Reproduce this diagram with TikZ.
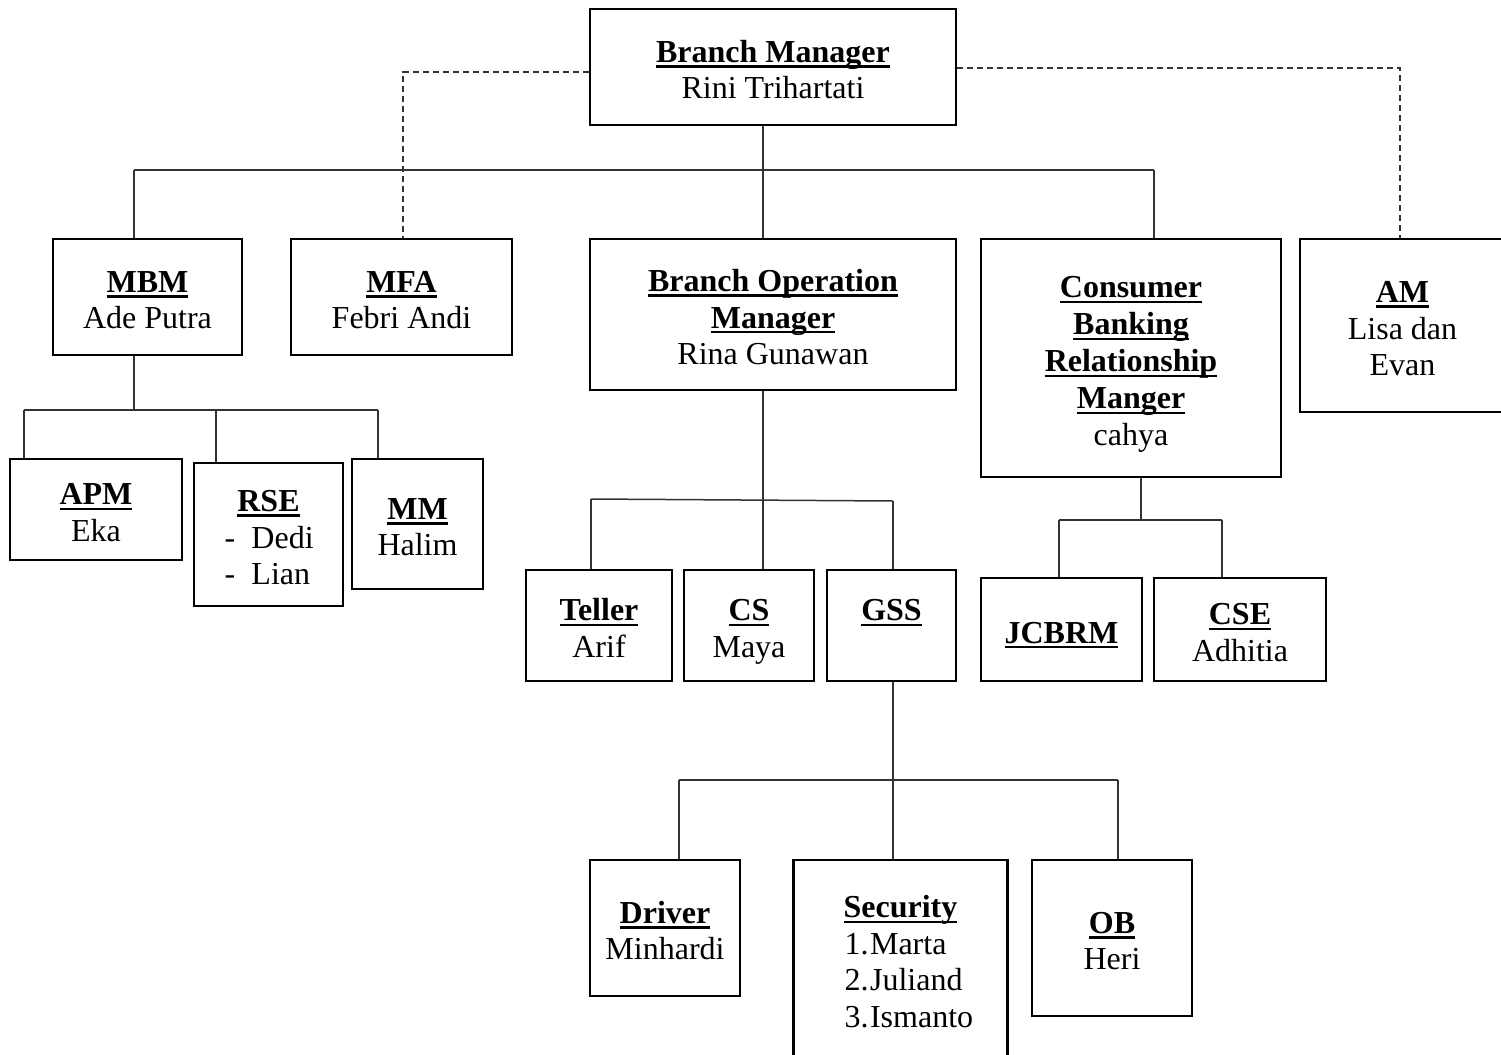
\documentclass[tikz,border=0pt]{standalone}
\usepackage{fontspec}
\setmainfont{Liberation Serif}
\begin{document}
\newcommand\ulb[1]{\setbox0\hbox{\textbf{#1}}\rlap{\rule[-2.7pt]{\wd0}{1.1pt}}\box0}
\newcommand\ttl[1]{\rule{0pt}{17.5pt}\ulb{#1}}
\newcommand\rseitem[1]{\makebox[44pt][l]{\makebox[13.5pt][l]{-}#1}}
\newcommand\secitem[2]{\makebox[56pt][l]{\makebox[12.8pt][l]{#1}#2}}
\begin{tikzpicture}[x=0.5pt,y=-0.5pt,
  box/.style={draw=black, line width=1.4pt, inner sep=0pt, align=center,
    font=\fontsize{16pt}{18.4pt}\selectfont, rectangle,
    execute at end node={\rule[-4pt]{0pt}{0pt}}},
  conn/.style={draw=black!80, line width=0.75pt},
  dconn/.style={conn, dash pattern=on 3pt off 2pt}]
\useasboundingbox (0,0) rectangle (1501,1055);
\clip (0,0) rectangle (1501,1055);
% nodes
\node[box, minimum width=183pt, minimum height=58pt] (bm) at (773,67) {\ttl{Branch Manager}\\Rini Trihartati};
\node[box, minimum width=94.5pt, minimum height=58pt] (mbm) at (147.5,297) {\ttl{MBM}\\Ade Putra};
\node[box, minimum width=110.5pt, minimum height=58pt] (mfa) at (401.5,297) {\ttl{MFA}\\Febri Andi};
\node[box, minimum width=183pt, minimum height=75.5pt] (bom) at (773,314.5) {\ttl{Branch Operation}\\\ulb{Manager}\\Rina Gunawan};
\node[box, minimum width=150pt, minimum height=119pt] (cbrm) at (1131,358) {\ttl{Consumer}\\\ulb{Banking}\\\ulb{Relationship}\\\ulb{Manger}\\cahya};
\node[box, minimum width=102.5pt, minimum height=86.5pt] (am) at (1402.5,325.5) {\ttl{AM}\\Lisa dan\\Evan};
\node[box, minimum width=86pt, minimum height=50.5pt] (apm) at (96,509.5) {\ttl{APM}\\Eka};
\node[box, minimum width=74.5pt, minimum height=71.5pt] (rse) at (268.5,534.5) {\ttl{RSE}\\\rseitem{Dedi}\\\rseitem{Lian}};
\node[box, minimum width=65.5pt, minimum height=65pt] (mm) at (417.5,524) {\ttl{MM}\\Halim};
\node[box, minimum width=73pt, minimum height=55.5pt] (teller) at (599,625.5) {\ttl{Teller}\\Arif};
\node[box, minimum width=65pt, minimum height=55.5pt] (cs) at (749,625.5) {\ttl{CS}\\Maya};
\node[box, minimum width=64.5pt, minimum height=55.5pt] (gss) at (891.5,625.5) {\ttl{GSS}\\\mbox{}};
\node[box, minimum width=80.5pt, minimum height=51.5pt] (jcbrm) at (1061.5,629.5) {\ttl{JCBRM}};
\node[box, minimum width=86pt, minimum height=51.5pt] (cse) at (1240,629.5) {\ttl{CSE}\\Adhitia};
\node[box, minimum width=75pt, minimum height=68pt] (driver) at (665,928) {\ttl{Driver}\\Minhardi};
\node[box, minimum width=107pt, minimum height=99pt] (sec) at (900.5,959) {\ttl{Security}\\\secitem{1.}{Marta}\\\secitem{2.}{Juliand}\\\secitem{3.}{Ismanto}};
\node[box, minimum width=80pt, minimum height=78pt] (ob) at (1112,938) {\ttl{OB}\\Heri};
% level 1
\coordinate (b1L) at (134,170);
\coordinate (b1M) at (763,170);
\coordinate (b1R) at (1154,170);
\draw[conn] (bm.south -| b1M) -- (b1M);
\draw[conn] (b1L) -- (b1R);
\draw[conn] (b1L) -- (b1L |- mbm.north);
\draw[conn] (b1M) -- (b1M |- bom.north);
\draw[conn] (b1R) -- (b1R |- cbrm.north);
% dashed staff lines
\coordinate (dl) at (403,72);
\coordinate (dr) at (1400,68);
\draw[dconn] (dl -| bm.west) -- (dl) -- (dl |- mfa.north);
\draw[dconn] (dr -| bm.east) -- (dr) -- (dr |- am.north);
% MBM group
\coordinate (b2L) at (24,410);
\coordinate (b2M) at (134,410);
\coordinate (b2C) at (216,410);
\coordinate (b2R) at (378,410);
\draw[conn] (mbm.south -| b2M) -- (b2M);
\draw[conn] (b2L) -- (b2R);
\draw[conn] (b2L) -- (b2L |- apm.north);
\draw[conn] (b2C) -- (b2C |- rse.north);
\draw[conn] (b2R) -- (b2R |- mm.north);
% BOM group
\coordinate (b3L) at (591,499);
\coordinate (b3M) at (763,500);
\coordinate (b3R) at (893,501);
\draw[conn] (bom.south -| b3M) -- (b3M |- cs.north);
\draw[conn] (b3L) -- (b3R);
\draw[conn] (b3L) -- (b3L |- teller.north);
\draw[conn] (b3R) -- (b3R |- gss.north);
% CBRM group
\coordinate (b4L) at (1059,520);
\coordinate (b4M) at (1141,520);
\coordinate (b4R) at (1222,520);
\draw[conn] (cbrm.south -| b4M) -- (b4M);
\draw[conn] (b4L) -- (b4R);
\draw[conn] (b4L) -- (b4L |- jcbrm.north);
\draw[conn] (b4R) -- (b4R |- cse.north);
% GSS group
\coordinate (b5L) at (679,780);
\coordinate (b5M) at (893,780);
\coordinate (b5R) at (1118,780);
\draw[conn] (gss.south -| b5M) -- (b5M |- sec.north);
\draw[conn] (b5L) -- (b5R);
\draw[conn] (b5L) -- (b5L |- driver.north);
\draw[conn] (b5R) -- (b5R |- ob.north);
\end{tikzpicture}
\end{document}
